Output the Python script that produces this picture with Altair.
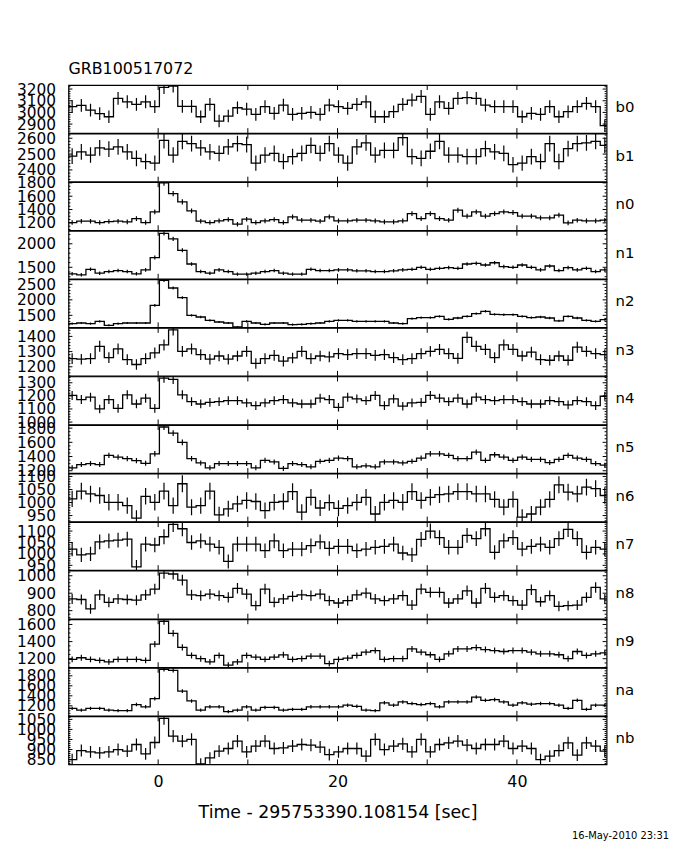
import altair as alt
import numpy as np
import pandas as pd

detectors = ["b0", "b1", "n0", "n1", "n2", "n3", "n4", "n5", "n6", "n7", "n8", "n9", "na", "nb"]

b0 = [3050, 3060, 3020, 2990, 2963, 3120, 3091, 3069, 3091, 3049, 3214, 3226, 3052, 3052, 2963,
      3069, 2926, 2969, 3040, 3029, 2983, 3049, 2992, 3063, 2983, 2992, 3000, 2983, 3063,
      3050, 3034, 3069, 3091, 2963, 2963, 3006, 3069, 3106, 3137, 2983, 3091, 3034, 3120, 3126,
      3120, 3063, 3049, 3049, 3049, 2963, 2992, 2983, 3049, 2963, 3006, 3049, 3077, 3049, 2886]
b1 = [2487, 2514, 2494, 2539, 2531, 2545, 2514, 2473, 2453, 2443, 2586, 2494, 2580, 2566, 2539,
      2514, 2504, 2545, 2566, 2560, 2443, 2494, 2504, 2453, 2484, 2504, 2555, 2504, 2566,
      2494, 2443, 2545, 2571, 2494, 2524, 2524, 2604, 2484, 2473, 2518, 2580, 2494, 2494, 2484,
      2484, 2535, 2514, 2504, 2433, 2443, 2484, 2453, 2566, 2453, 2535, 2566, 2571, 2580, 2555]
n0 = [1205, 1225, 1225, 1205, 1220, 1225, 1215, 1265, 1205, 1365, 1800, 1640, 1515, 1380, 1225,
      1205, 1230, 1250, 1180, 1255, 1205, 1230, 1250, 1205, 1290, 1240, 1240, 1225, 1290,
      1230, 1230, 1240, 1240, 1230, 1215, 1215, 1230, 1340, 1265, 1340, 1265, 1240, 1390, 1300,
      1365, 1300, 1340, 1365, 1355, 1300, 1300, 1275, 1275, 1315, 1200, 1240, 1230, 1230, 1240]
n1 = [1361, 1340, 1458, 1375, 1410, 1430, 1410, 1361, 1445, 1708, 2222, 2104, 1861, 1570, 1410,
      1375, 1445, 1410, 1354, 1354, 1375, 1410, 1430, 1375, 1354, 1354, 1458, 1430, 1430,
      1445, 1445, 1424, 1424, 1410, 1410, 1424, 1445, 1458, 1500, 1458, 1479, 1493, 1479, 1570,
      1584, 1549, 1597, 1514, 1500, 1549, 1500, 1445, 1528, 1430, 1493, 1445, 1479, 1410, 1445]
n2 = [1231, 1253, 1231, 1307, 1178, 1231, 1253, 1253, 1253, 1823, 2629, 2382, 2070, 1500, 1446,
      1339, 1285, 1253, 1124, 1307, 1253, 1210, 1253, 1253, 1200, 1210, 1231, 1253, 1307,
      1339, 1339, 1307, 1307, 1307, 1307, 1253, 1231, 1393, 1425, 1425, 1468, 1371, 1414, 1468,
      1554, 1629, 1532, 1521, 1521, 1468, 1425, 1446, 1414, 1318, 1468, 1414, 1339, 1307, 1360]
n3 = [1254, 1250, 1254, 1335, 1260, 1318, 1247, 1215, 1254, 1292, 1344, 1443, 1301, 1318, 1280,
      1250, 1271, 1250, 1271, 1301, 1222, 1254, 1275, 1237, 1258, 1301, 1254, 1271, 1265,
      1286, 1280, 1286, 1286, 1275, 1280, 1260, 1247, 1254, 1286, 1301, 1314, 1286, 1255, 1394,
      1335, 1314, 1260, 1344, 1314, 1271, 1297, 1247, 1243, 1271, 1243, 1329, 1301, 1286, 1280]
n4 = [1203, 1172, 1190, 1100, 1172, 1105, 1208, 1138, 1182, 1105, 1336, 1326, 1208, 1156, 1138,
      1151, 1156, 1164, 1164, 1146, 1126, 1146, 1164, 1172, 1146, 1138, 1138, 1182, 1172,
      1113, 1190, 1177, 1164, 1203, 1126, 1177, 1121, 1146, 1151, 1203, 1182, 1156, 1182, 1138,
      1190, 1172, 1164, 1172, 1172, 1156, 1138, 1138, 1164, 1156, 1131, 1164, 1156, 1126, 1197]
n5 = [1241, 1287, 1301, 1287, 1416, 1393, 1370, 1342, 1305, 1439, 1816, 1729, 1600, 1370, 1310,
      1241, 1301, 1301, 1301, 1301, 1241, 1347, 1324, 1232, 1301, 1287, 1255, 1333, 1347,
      1379, 1370, 1255, 1269, 1255, 1324, 1324, 1310, 1333, 1379, 1439, 1439, 1416, 1370, 1370,
      1462, 1347, 1425, 1393, 1347, 1393, 1361, 1361, 1315, 1361, 1416, 1379, 1361, 1301, 1278]
n6 = [1014, 1044, 1033, 1027, 1001, 1001, 988, 940, 1024, 1001, 1044, 988, 1072, 982, 988,
      1044, 953, 976, 995, 1008, 1004, 969, 1001, 1004, 1042, 963, 1020, 979, 1000,
      978, 988, 1001, 1020, 956, 1001, 1008, 1001, 1042, 1008, 1020, 1030, 1033, 1042, 1042,
      1033, 1033, 1012, 982, 1012, 944, 956, 982, 1012, 1068, 1040, 1033, 1059, 1053, 1027]
n7 = [1021, 996, 1000, 1053, 1057, 1060, 1065, 943, 1043, 1039, 1075, 1129, 1110, 1050, 1057,
      1043, 1029, 967, 1043, 1043, 1043, 1014, 1057, 1014, 1021, 1021, 1036, 1053, 1024,
      1033, 1033, 1014, 1021, 1029, 1033, 1043, 1004, 996, 1064, 1100, 1071, 1029, 1029, 1081,
      1067, 1110, 1007, 1057, 1071, 1021, 1033, 1043, 1029, 1067, 1107, 1067, 1007, 1029, 1021]
n8 = [867, 864, 810, 890, 848, 867, 864, 860, 890, 924, 1015, 1010, 975, 890, 886,
      895, 886, 876, 928, 895, 829, 924, 848, 867, 882, 890, 886, 895, 857,
      844, 857, 890, 901, 867, 857, 867, 886, 832, 924, 905, 905, 844, 867, 914,
      844, 928, 876, 886, 857, 832, 920, 851, 886, 825, 829, 832, 876, 933, 867]
n9 = [1192, 1211, 1192, 1181, 1162, 1192, 1192, 1192, 1181, 1371, 1638, 1497, 1333, 1238, 1200,
      1162, 1238, 1124, 1162, 1238, 1219, 1192, 1219, 1245, 1192, 1200, 1230, 1230, 1143,
      1192, 1207, 1238, 1276, 1295, 1192, 1200, 1200, 1314, 1276, 1246, 1192, 1257, 1314, 1314,
      1329, 1307, 1295, 1284, 1295, 1295, 1276, 1257, 1257, 1246, 1200, 1284, 1238, 1257, 1269]
na = [1148, 1115, 1148, 1148, 1115, 1102, 1102, 1226, 1180, 1343, 1930, 1910, 1493, 1298, 1115,
      1180, 1180, 1082, 1115, 1180, 1115, 1167, 1167, 1115, 1128, 1128, 1180, 1180, 1180,
      1180, 1213, 1190, 1115, 1102, 1259, 1213, 1278, 1246, 1226, 1246, 1180, 1278, 1278, 1278,
      1376, 1311, 1324, 1278, 1213, 1259, 1233, 1246, 1246, 1213, 1148, 1311, 1128, 1213, 1213]
nb = [850, 895, 888, 883, 888, 900, 892, 925, 878, 935, 1055, 967, 942, 950, 828,
      858, 892, 905, 942, 888, 917, 942, 905, 908, 917, 925, 922, 912, 875,
      888, 905, 905, 867, 950, 900, 917, 928, 888, 950, 888, 925, 933, 942, 922,
      905, 925, 925, 942, 905, 917, 905, 850, 867, 895, 933, 872, 933, 917, 892]

rates = {"b0": b0, "b1": b1, "n0": n0, "n1": n1, "n2": n2, "n3": n3, "n4": n4,
         "n5": n5, "n6": n6, "n7": n7, "n8": n8, "n9": n9, "na": na, "nb": nb}

y_domains = {"b0": [2823, 3234], "b1": [2326, 2629], "n0": [1090, 1810], "n1": [1256, 2277],
             "n2": [1113, 2661], "n3": [1140, 1456], "n4": [982, 1348], "n5": [1168, 1844],
             "n6": [927, 1111], "n7": [929, 1139], "n8": [754, 1029], "n9": [1100, 1661],
             "na": [1000, 1960], "nb": [826, 1065]}
y_labels = {"b0": [2900, 3000, 3100, 3200], "b1": [2400, 2500, 2600],
            "n0": [1200, 1400, 1600, 1800], "n1": [1500, 2000], "n2": [1500, 2000, 2500],
            "n3": [1200, 1300, 1400], "n4": [1000, 1100, 1200, 1300],
            "n5": [1200, 1400, 1600, 1800], "n6": [950, 1000, 1050, 1100],
            "n7": [950, 1000, 1050, 1100], "n8": [800, 900, 1000],
            "n9": [1200, 1400, 1600], "na": [1200, 1400, 1600, 1800],
            "nb": [850, 900, 950, 1000, 1050]}
y_minor = {"b0": 20, "b1": 20, "n0": 50, "n1": 100, "n2": 100, "n3": 20, "n4": 20,
           "n5": 50, "n6": 10, "n7": 10, "n8": 20, "n9": 50, "na": 50, "nb": 10}
x_labels = [0, 20, 40]
x_ticks = [0, 10, 20, 30, 40]

TITLE = "GRB100517072"
XTITLE = "Time - 295753390.108154 [sec]"
DATE = "16-May-2010 23:31"

BIN = 1.024
FIRST_EDGE = 0.14 - 10 * BIN
X_MIN, X_MAX = -10, 50
W, H = 543, 48.43
FONT = "DejaVu Sans"
MAJ_LEN, MIN_LEN, XT_LEN = 4.0, 2.0, 5.0

edges = FIRST_EDGE + BIN * np.arange(len(b0) + 1)
centers = edges[:-1] + BIN / 2
px_x = (X_MAX - X_MIN) / W


def tick_frame(det):
    dmin, dmax = y_domains[det]
    py = (dmax - dmin) / H
    rows = []
    mstep = y_minor[det]
    start = np.ceil(dmin / mstep) * mstep
    for v in np.arange(start, dmax + 1e-9, mstep):
        major = any(abs(v - m) < 1e-6 for m in y_labels[det])
        L = MAJ_LEN if major else MIN_LEN
        rows.append((X_MIN, X_MIN + L * px_x, v, v))
        rows.append((X_MAX - L * px_x, X_MAX, v, v))
    for t in x_ticks:
        rows.append((t, t, dmin, dmin + XT_LEN * py))
        rows.append((t, t, dmax - XT_LEN * py, dmax))
    return pd.DataFrame(rows, columns=["t", "t2", "rate", "rate2"])


def panel(det, first=False, last=False):
    vals = np.array(rates[det], dtype=float)
    dmin, dmax = y_domains[det]
    step = pd.DataFrame({"t": edges, "rate": np.append(vals, vals[-1])})
    err = np.sqrt(vals / BIN)
    eb = pd.DataFrame({"t": centers, "rate": vals - err, "hi": vals + err})

    xs = alt.Scale(domain=[X_MIN, X_MAX], nice=False, zero=False)
    ys = alt.Scale(domain=[dmin, dmax], nice=False, zero=False)
    if last:
        xaxis = alt.Axis(values=x_labels, ticks=False, domain=False, grid=False, format="d",
                         labelFont=FONT, labelFontSize=16, labelPadding=9, labelFlush=False,
                         labelColor="black", title=XTITLE, titleFont=FONT, titleFontSize=17.5,
                         titleFontWeight="normal", titlePadding=15, titleColor="black")
    else:
        xaxis = None
    yaxis = alt.Axis(values=y_labels[det], ticks=False, domain=False, grid=False, format="d",
                     labelOverlap=False, labelFont=FONT, labelFontSize=15.5,
                     labelPadding=13, labelColor="black", title=None)
    X = alt.X("t:Q", scale=xs, axis=xaxis)
    Y = alt.Y("rate:Q", scale=ys, axis=yaxis)

    line = alt.Chart(step).mark_line(interpolate="step-after", color="black",
                                     strokeWidth=1.3, clip=True).encode(x=X, y=Y)
    bars = alt.Chart(eb).mark_rule(color="black", strokeWidth=1.2, clip=True).encode(
        x=X, y=Y, y2="hi:Q")
    ticks = alt.Chart(tick_frame(det)).mark_rule(color="black", strokeWidth=1).encode(
        x=X, x2="t2:Q", y=Y, y2="rate2:Q")
    label = alt.Chart(pd.DataFrame({"name": [det]})).mark_text(
        align="left", baseline="middle", font=FONT, fontSize=15, color="black").encode(
        x=alt.value(W + 9), y=alt.value(H / 2 - 2), text="name:N")
    layers = [line, bars, ticks, label]
    if last:
        date = alt.Chart(pd.DataFrame({"name": [DATE]})).mark_text(
            align="right", baseline="middle", font=FONT, fontSize=10, color="black").encode(
            x=alt.value(W + 63), y=alt.value(H + 72.5), text="name:N")
        layers.append(date)
    ch = alt.layer(*layers).properties(width=W, height=H)
    if first:
        ch = ch.properties(title=alt.TitleParams(TITLE, anchor="start", frame="group",
                                                 font=FONT, fontSize=16, fontWeight="normal",
                                                 color="black", offset=5))
    return ch


panels = [panel(d, first=(i == 0), last=(i == len(detectors) - 1))
          for i, d in enumerate(detectors)]

chart = alt.vconcat(*panels, spacing=0, bounds="flush").properties(
    padding={"left": 7, "top": 49, "right": 2, "bottom": 0}
).configure_view(stroke="black", strokeWidth=1.2).configure_concat(spacing=0)

chart.save("out.html", embed_options={"renderer": "svg", "actions": False})
